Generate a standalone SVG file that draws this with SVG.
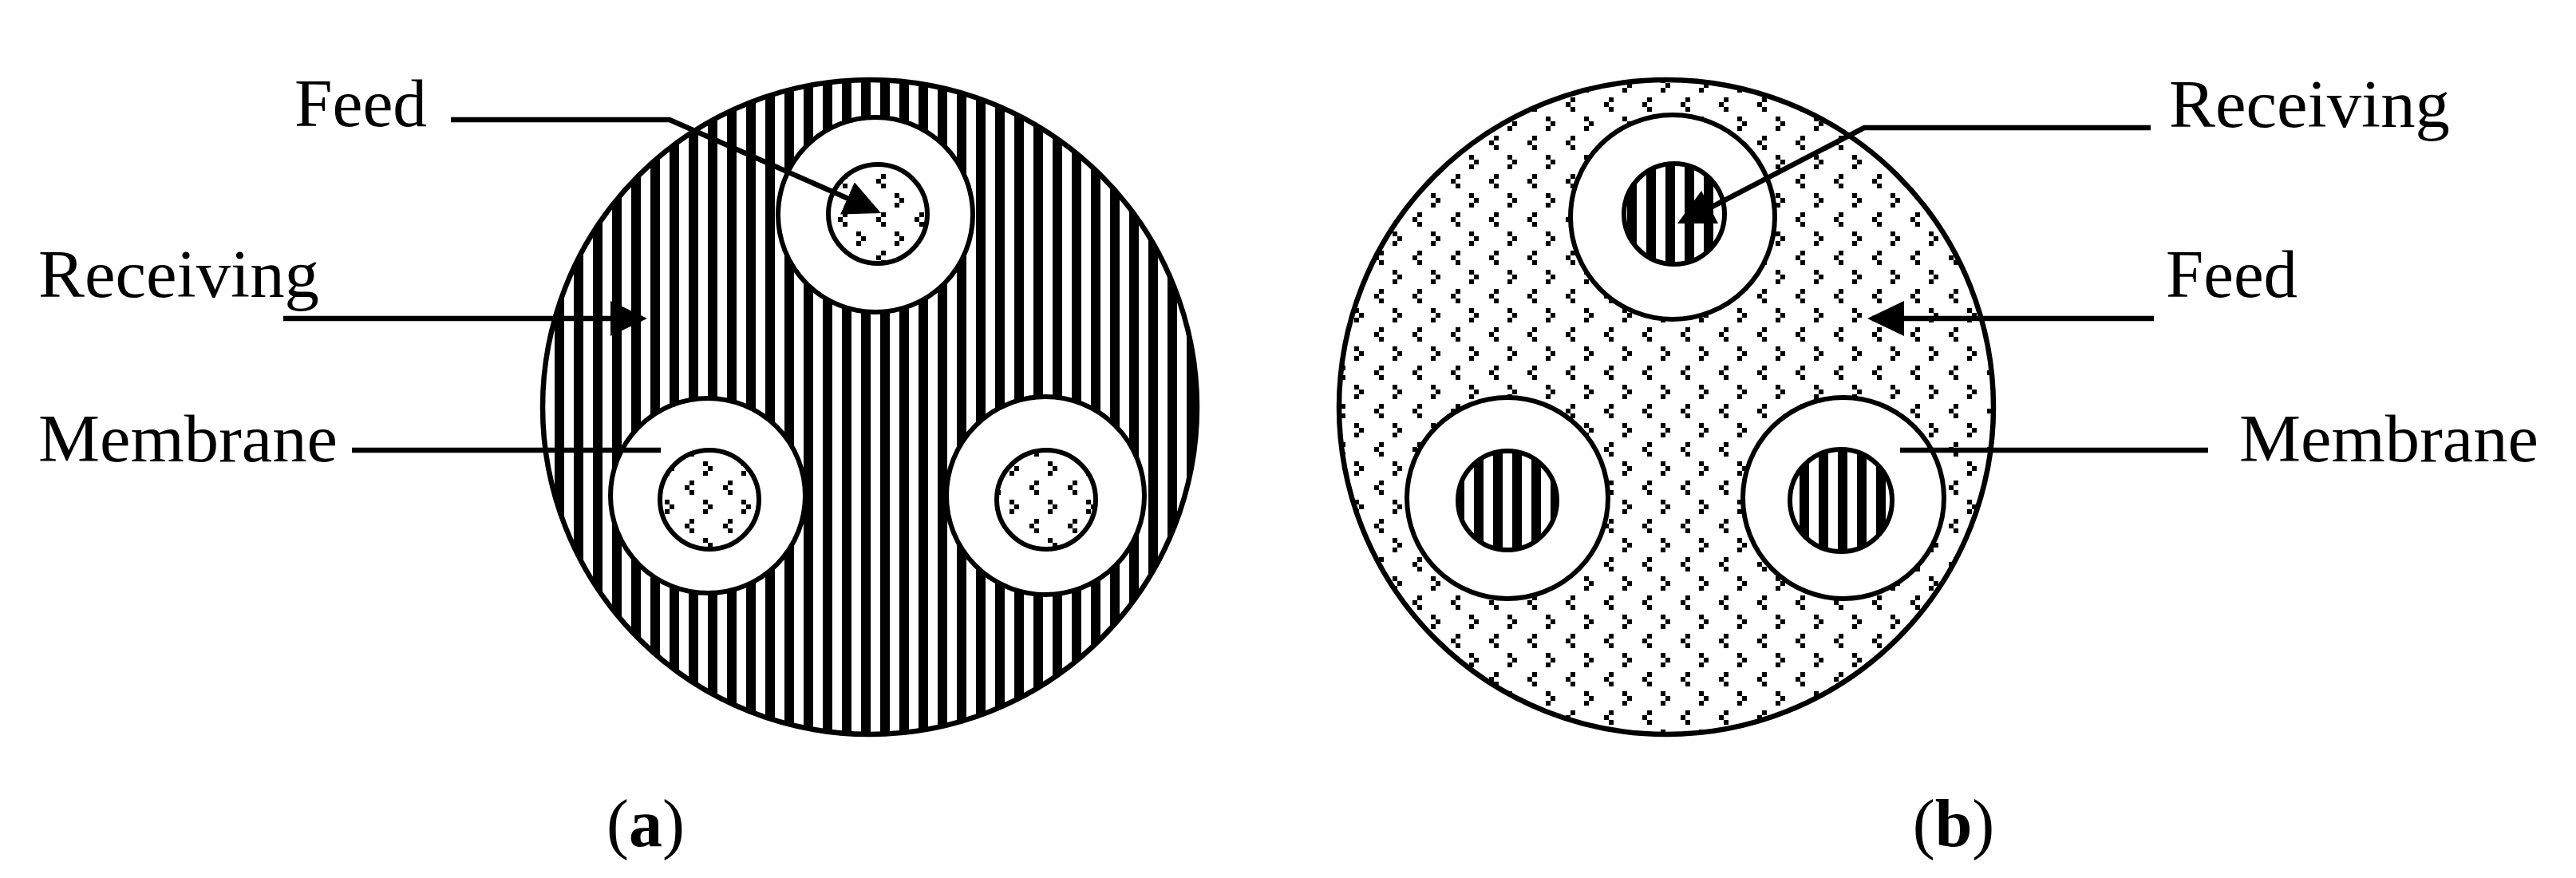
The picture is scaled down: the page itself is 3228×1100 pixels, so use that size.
<svg xmlns="http://www.w3.org/2000/svg" width="3228" height="1100" viewBox="0 0 3228 1100">
<style>
.lbl{font-family:"Liberation Serif","Times New Roman",serif;font-size:85px;fill:#000}
.cap{font-family:"Liberation Serif","Times New Roman",serif;font-size:84px;fill:#000;text-anchor:middle}
.big{stroke:#000;stroke-width:6.5}
.ring{fill:#fff;stroke:#000;stroke-width:6}
.core{stroke:#000;stroke-width:6}
.conn{fill:none;stroke:#000;stroke-width:6.5;stroke-linejoin:miter}
</style>
<defs>
<pattern id="stripes" patternUnits="userSpaceOnUse" x="-1" y="0" width="24" height="24">
<rect x="0" y="0" width="24" height="24" fill="#fff"/>
<rect x="0" y="0" width="12" height="24" fill="#000"/>
</pattern>
<pattern id="dots" patternUnits="userSpaceOnUse" x="42" y="26" width="48" height="48">
<rect x="0" y="0" width="48" height="48" fill="#fff"/>
<rect x="6" y="0" width="6" height="6" fill="#000"/>
<rect x="0" y="6" width="6" height="6" fill="#000"/>
<rect x="6" y="12" width="6" height="6" fill="#000"/>
<rect x="23" y="24" width="6" height="6" fill="#000"/>
<rect x="29" y="30" width="6" height="6" fill="#000"/>
<rect x="23" y="36" width="6" height="6" fill="#000"/>
</pattern>
<marker id="arrow" markerUnits="userSpaceOnUse" markerWidth="46" markerHeight="44" refX="40" refY="22" orient="auto" viewBox="0 0 46 44">
<path d="M0,0 L46,22 L0,44 Z" fill="#000"/>
</marker>
</defs>
<rect x="0" y="0" width="3228" height="1100" fill="#fff"/>

<g id="panel-a">
<circle id="a-body" class="big" cx="1090" cy="510" r="410" fill="url(#stripes)"/>
<g id="a-fiber-top">
<circle class="ring" cx="1097" cy="269" r="122"/>
<circle class="core" cx="1100" cy="268" r="62" fill="url(#dots)"/>
</g>
<g id="a-fiber-left">
<circle class="ring" cx="887" cy="621" r="122"/>
<circle class="core" cx="889" cy="626" r="62" fill="url(#dots)"/>
</g>
<g id="a-fiber-right">
<circle class="ring" cx="1310" cy="621" r="124"/>
<circle class="core" cx="1311" cy="626" r="62" fill="url(#dots)"/>
</g>
</g>

<g id="panel-b">
<circle id="b-body" class="big" cx="2088" cy="510" r="410" fill="url(#dots)"/>
<g id="b-fiber-top">
<circle class="ring" cx="2096" cy="272" r="128"/>
<circle class="core" cx="2098" cy="268" r="63" fill="url(#stripes)"/>
</g>
<g id="b-fiber-left">
<circle class="ring" cx="1889" cy="624" r="126"/>
<circle class="core" cx="1889" cy="627" r="62" fill="url(#stripes)"/>
</g>
<g id="b-fiber-right">
<circle class="ring" cx="2310" cy="624" r="126"/>
<circle class="core" cx="2307" cy="627" r="64" fill="url(#stripes)"/>
</g>
</g>

<g id="connectors">
<polyline class="conn" points="565,150 839,150 1098.5,264.6" marker-end="url(#arrow)"/>
<polyline class="conn" points="355,399 805,399" marker-end="url(#arrow)"/>
<polyline class="conn" points="441,564 828,564"/>
<polyline class="conn" points="2699,399 2346,399" marker-end="url(#arrow)"/>
<polyline class="conn" points="2695,160 2336,160 2132,266"/>
<polygon points="2132,239 2102,280 2153,280" fill="#000"/>
<polyline class="conn" points="2381,564 2767,564"/>
</g>

<g id="labels">
<text class="lbl" x="369" y="158" textLength="166" lengthAdjust="spacingAndGlyphs">Feed</text>
<text class="lbl" x="48" y="372" textLength="352" lengthAdjust="spacingAndGlyphs">Receiving</text>
<text class="lbl" x="48" y="578" textLength="375" lengthAdjust="spacingAndGlyphs">Membrane</text>
<text class="lbl" x="2718" y="159" textLength="352" lengthAdjust="spacingAndGlyphs">Receiving</text>
<text class="lbl" x="2714" y="372" textLength="165" lengthAdjust="spacingAndGlyphs">Feed</text>
<text class="lbl" x="2806" y="578" textLength="375" lengthAdjust="spacingAndGlyphs">Membrane</text>
<text class="cap" x="809" y="1060">(<tspan font-weight="bold">a</tspan>)</text>
<text class="cap" x="2448" y="1060">(<tspan font-weight="bold">b</tspan>)</text>
</g>
</svg>
